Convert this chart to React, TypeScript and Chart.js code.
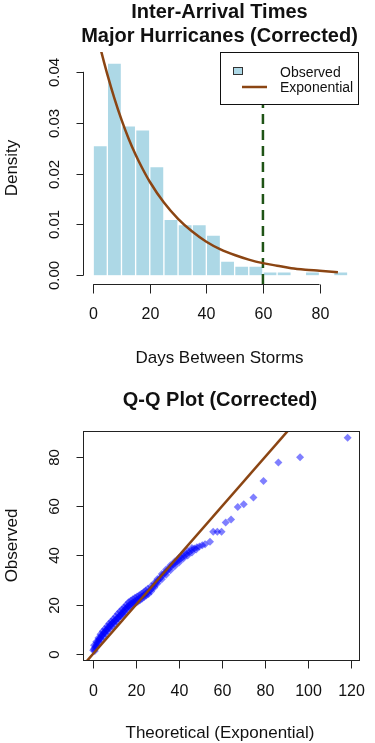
import React, { useEffect, useRef } from "react";
import { Chart, registerables } from "chart.js";

Chart.register(...registerables);

// ---------- Data: histogram of inter-arrival times ----------
const histBinStart = [0, 5, 10, 15, 20, 25, 30, 35, 40, 45, 50, 55, 60, 65, 70, 75, 80, 85];
const histBinWidth = 5;
const histDensity = [0.0255, 0.0417, 0.0294, 0.0286, 0.0214, 0.011, 0.01, 0.01, 0.0079, 0.0028, 0.0018, 0.0018, 0.0007, 0.0007, 0, 0.0007, 0, 0.0007];

// fitted exponential density
const expCurveX = [0, 2.5, 5, 7.5, 10, 12.5, 15, 17.5, 20, 25, 30, 35, 40, 45, 50, 55, 60, 65, 70, 75, 80, 86.5];
const expCurveY = [0.051, 0.0448, 0.0395, 0.0348, 0.0306, 0.0269, 0.0237, 0.0209, 0.0184, 0.0143, 0.0111, 0.0086, 0.0066, 0.0051, 0.004, 0.0031, 0.0024, 0.0019, 0.0014, 0.0011, 0.0009, 0.0006];

const cutoffDays = 60;
const histXTicks = [0, 20, 40, 60, 80];
const histYTicks = [0, 0.01, 0.02, 0.03, 0.04];
const histYTickLabels = ["0.00", "0.01", "0.02", "0.03", "0.04"];

// ---------- Data: Q-Q plot ----------
const qqTheoretical = [
  0.1, 0.5, 0.9, 1.3, 1.7, 2.1, 2.5, 2.9, 3.4, 3.9, 4.4, 4.9, 5.4, 5.9, 6.4, 6.9, 7.4, 7.9, 8.5, 9.1,
  9.7, 10.3, 10.9, 11.5, 12.1, 12.7, 13.3, 13.9, 14.5, 15.1, 15.7, 16.4, 17.1, 17.9, 18.7, 19.5, 20.3, 21.1, 21.9, 22.7,
  23.5, 24.3, 25.1, 25.9, 26.7, 27.5, 28.3, 29.1, 29.9, 30.7, 31.5, 32.4, 33.3, 34.2, 35.1, 36.1, 37.1, 38.1, 39.1, 40.1,
  41.2, 42.3, 43.5, 44.7, 45.9, 47.1, 48.3, 49.5, 50.8, 52.1, 54.4, 55.9, 57.8, 59.8, 61.7, 64.2, 67.3, 70.1, 74.6, 79.3,
  86.2, 96.3, 118.4,
];
const qqObserved = [
  1.5, 2, 2.6, 3.2, 4, 4.8, 5.5, 6, 6.6, 7.2, 7.8, 8.3, 8.8, 9.3, 9.8, 10.4, 11, 11.6, 12.1, 12.6,
  13.1, 13.6, 14.1, 14.6, 15.2, 15.8, 16.4, 17, 17.6, 18.3, 18.9, 19.5, 20, 20.5, 21, 21.4, 21.9, 22.3, 22.8, 23.3,
  23.8, 24.4, 24.9, 25.4, 26, 26.8, 27.6, 28.5, 29.5, 30.3, 31.1, 32, 32.8, 33.6, 34.4, 35.3, 36.2, 36.9, 37.6, 38.3,
  39, 39.8, 40.6, 41.3, 42.1, 42.8, 43.3, 43.7, 44.2, 44.6, 45.6, 49.6, 49.6, 49.6, 53.4, 54.6, 59.7, 60.8, 63.6, 70.3,
  77.8, 79.9, 87.8,
];
// further points in the dense band (upper and lower edge of the band)
const qqBandTheoretical = [
  0.5, 1.5, 2.5, 3.5, 4.5, 5.5, 6.5, 7.5, 8.5, 9.5, 10.5, 11.5, 12.5, 13.5, 14.5, 15.5, 16.5, 17.5, 18.5, 19.5,
  20.5, 21.5, 22.5, 23.5, 24.5, 25.5, 27, 28.5, 30, 32, 34, 36, 38, 40, 42, 44, 46,
  0.8, 1.8, 2.8, 3.8, 4.8, 5.8, 6.8, 7.8, 8.8, 9.8, 10.8, 11.8, 12.8, 13.8, 14.8, 15.8, 16.8, 17.8, 18.8, 19.8,
  20.8, 21.8, 22.8, 23.8, 24.8, 25.8, 27, 28.5, 30, 32, 34, 36, 38, 40, 42, 44, 46, 48,
];
const qqBandObserved = [
  3.5, 5, 6.5, 8, 9.2, 10.2, 11.3, 12.4, 13.3, 14.2, 15.2, 16.3, 17.3, 18.2, 19, 20, 21, 21.6, 22.2, 22.8,
  23.3, 23.9, 24.5, 25.1, 25.8, 26.5, 27.5, 28.8, 30.5, 32.5, 34.3, 36, 37.6, 39.1, 40.6, 41.8, 43,
  1.2, 3.1, 4.9, 6.1, 7.2, 8.2, 9.3, 10.5, 11.2, 12.2, 13.2, 14.5, 15.3, 16.1, 17, 18.2, 18.9, 19.5, 20.1, 20.7,
  21.2, 21.8, 22.4, 23.1, 23.8, 24.4, 25.4, 27, 28.6, 30.4, 32.2, 34, 35.6, 37.2, 38.8, 40, 41.2, 42.4,
];
const qqRefLine = [-10, 130];
const qqXTicks = [0, 20, 40, 60, 80, 100, 120];
const qqYTicks = [0, 20, 40, 60, 80];

// ---------- Styles ----------
const BAR_FILL = "#ADD8E6";
const BROWN = "#8B4513";
const DARK_GREEN = "#1f5416";
const POINT_FILL = "rgba(0, 0, 255, 0.5)";
const AXIS = "#222";
const TEXT = "#111";
const FONT_FAMILY = '"Liberation Sans", Arial, sans-serif';
const f = (size: number, bold = false) => `${bold ? "bold " : ""}${size}px ${FONT_FAMILY}`;

function text(ctx: CanvasRenderingContext2D, s: string, x: number, y: number, font: string, align: CanvasTextAlign = "center", rotate = false) {
  ctx.save();
  ctx.font = font;
  ctx.fillStyle = TEXT;
  ctx.textAlign = align;
  ctx.textBaseline = "middle";
  if (rotate) {
    ctx.translate(x, y);
    ctx.rotate(-Math.PI / 2);
    ctx.fillText(s, 0, 0);
  } else {
    ctx.fillText(s, x, y);
  }
  ctx.restore();
}

function line(ctx: CanvasRenderingContext2D, x1: number, y1: number, x2: number, y2: number, color = AXIS, w = 1) {
  ctx.save();
  ctx.strokeStyle = color;
  ctx.lineWidth = w;
  ctx.beginPath();
  ctx.moveTo(x1, y1);
  ctx.lineTo(x2, y2);
  ctx.stroke();
  ctx.restore();
}

const histAxesPlugin = {
  id: "histAxes",
  afterDraw(chart: any) {
    const ctx = chart.ctx as CanvasRenderingContext2D;
    const xs = chart.scales.x;
    const ys = chart.scales.y;
    const a = chart.chartArea;
    const cx = (a.left + a.right) / 2 - 1;
    text(ctx, "Inter-Arrival Times", cx, 12, f(20, true));
    text(ctx, "Major Hurricanes (Corrected)", cx, 36, f(20, true));

    const yl = Math.round(a.left) + 0.5;
    line(ctx, yl, ys.getPixelForValue(histYTicks[0]), yl, ys.getPixelForValue(histYTicks[histYTicks.length - 1]));
    histYTicks.forEach((v, i) => {
      const p = Math.round(ys.getPixelForValue(v)) + 0.5;
      line(ctx, yl, p, yl - 7, p);
      text(ctx, histYTickLabels[i], 54.5, p, f(15), "center", true);
    });
    const xb = Math.round(a.bottom) + 0.5;
    line(ctx, xs.getPixelForValue(histXTicks[0]), xb, xs.getPixelForValue(histXTicks[histXTicks.length - 1]), xb);
    histXTicks.forEach((v) => {
      const p = Math.round(xs.getPixelForValue(v)) + 0.5;
      line(ctx, p, xb, p, xb + 9);
      text(ctx, String(v), p, 315, f(16));
    });
    text(ctx, "Days Between Storms", cx, 358, f(17));
    text(ctx, "Density", 12, (a.top + a.bottom) / 2, f(17), "center", true);

    // legend
    const lx = 220.5, ly = Math.round(a.top) + 0.5, lw = Math.round(a.right) + 0.5 - lx, lh = 52;
    ctx.save();
    ctx.fillStyle = "#fff";
    ctx.fillRect(lx, ly, lw, lh);
    ctx.strokeStyle = "#111";
    ctx.lineWidth = 1;
    ctx.strokeRect(lx, ly, lw, lh);
    ctx.fillStyle = BAR_FILL;
    ctx.fillRect(233.5, 67.5, 9, 7);
    ctx.strokeStyle = "#333";
    ctx.strokeRect(233.5, 67.5, 9, 7);
    ctx.restore();
    line(ctx, 242, 87, 267, 87, BROWN, 2.5);
    text(ctx, "Observed", 280, 73, f(14), "left");
    text(ctx, "Exponential", 280, 88.5, f(14), "left");
  },
};

const qqAxesPlugin = {
  id: "qqAxes",
  afterDraw(chart: any) {
    const ctx = chart.ctx as CanvasRenderingContext2D;
    const xs = chart.scales.x;
    const ys = chart.scales.y;
    const a = chart.chartArea;
    const cx = (a.left + a.right) / 2 - 1;
    text(ctx, "Q-Q Plot (Corrected)", cx, 20, f(20, true));
    ctx.save();
    ctx.strokeStyle = AXIS;
    ctx.lineWidth = 1;
    ctx.strokeRect(Math.round(a.left) + 0.5, Math.round(a.top) + 0.5, Math.round(a.right - a.left), Math.round(a.bottom - a.top));
    ctx.restore();
    const yl = Math.round(a.left) + 0.5;
    qqYTicks.forEach((v) => {
      const p = Math.round(ys.getPixelForValue(v)) + 0.5;
      line(ctx, yl, p, yl - 7, p);
      text(ctx, String(v), 54.5, p, f(15), "center", true);
    });
    const xb = Math.round(a.bottom) + 0.5;
    qqXTicks.forEach((v) => {
      const p = Math.round(xs.getPixelForValue(v)) + 0.5;
      line(ctx, p, xb, p, xb + 8);
      text(ctx, String(v), p, 312, f(16));
    });
    text(ctx, "Theoretical (Exponential)", cx, 353, f(17));
    text(ctx, "Observed", 12, (a.top + a.bottom) / 2, f(17), "center", true);
  },
};

export default function App() {
  const topRef = useRef<HTMLCanvasElement>(null);
  const botRef = useRef<HTMLCanvasElement>(null);

  useEffect(() => {
    const hYMin = -0.0017, hYMax = 0.0439;
    const bars = histBinStart.map((s, i) => ({ x: s + histBinWidth / 2, y: histDensity[i] })).filter((d) => d.y > 0);
    const curve = expCurveX.map((x, i) => ({ x, y: expCurveY[i] }));
    const top = new Chart(topRef.current!, {
      type: "bar",
      data: {
        datasets: [
          {
            type: "line",
            data: curve,
            borderColor: BROWN,
            borderWidth: 2.5,
            pointRadius: 0,
            cubicInterpolationMode: "monotone",
            order: 0,
          } as any,
          {
            type: "line",
            data: [{ x: cutoffDays, y: hYMin }, { x: cutoffDays, y: hYMax }],
            borderColor: DARK_GREEN,
            borderWidth: 2.5,
            borderDash: [10, 6],
            pointRadius: 0,
            order: 1,
          } as any,
          {
            type: "bar",
            data: bars,
            backgroundColor: BAR_FILL,
            borderColor: "#ffffff",
            borderWidth: 1,
            borderSkipped: "start",
            barPercentage: 1,
            categoryPercentage: 1,
            order: 2,
          } as any,
        ],
      },
      options: {
        responsive: false,
        animation: false,
        layout: { padding: { left: 83, right: 17, top: 52, bottom: 96 } },
        plugins: { legend: { display: false }, tooltip: { enabled: false } },
        scales: {
          x: { type: "linear", display: false, min: -3.6, max: 93.6, offset: false, ticks: { stepSize: 20 } },
          y: { type: "linear", display: false, min: hYMin, max: hYMax },
        },
      } as any,
      plugins: [histAxesPlugin],
    });

    const pts = qqTheoretical
      .map((x, i) => ({ x, y: qqObserved[i] }))
      .concat(qqBandTheoretical.map((x, i) => ({ x, y: qqBandObserved[i] })));
    const bot = new Chart(botRef.current!, {
      type: "scatter",
      data: {
        datasets: [
          {
            type: "line",
            data: qqRefLine.map((v) => ({ x: v, y: v })),
            borderColor: BROWN,
            borderWidth: 2.5,
            pointRadius: 0,
            order: 0,
          } as any,
          {
            type: "scatter",
            data: pts,
            pointStyle: "rectRot",
            pointRadius: 4,
            backgroundColor: POINT_FILL,
            borderWidth: 0,
            order: 1,
          } as any,
        ],
      },
      options: {
        responsive: false,
        animation: false,
        layout: { padding: { left: 83, right: 16, top: 51, bottom: 83 } },
        plugins: { legend: { display: false }, tooltip: { enabled: false } },
        scales: {
          x: { type: "linear", display: false, min: -4.65, max: 123.7 },
          y: { type: "linear", display: false, min: -2.44, max: 90.56 },
        },
      } as any,
      plugins: [qqAxesPlugin],
    });
    return () => {
      top.destroy();
      bot.destroy();
    };
  }, []);

  return (
    <div style={{ position: "absolute", left: 0, top: 0, width: 375, height: 743, background: "#fff" }}>
      <canvas ref={topRef} width={375} height={380} style={{ display: "block", width: 375, height: 380 }} />
      <canvas ref={botRef} width={375} height={363} style={{ display: "block", width: 375, height: 363 }} />
    </div>
  );
}
